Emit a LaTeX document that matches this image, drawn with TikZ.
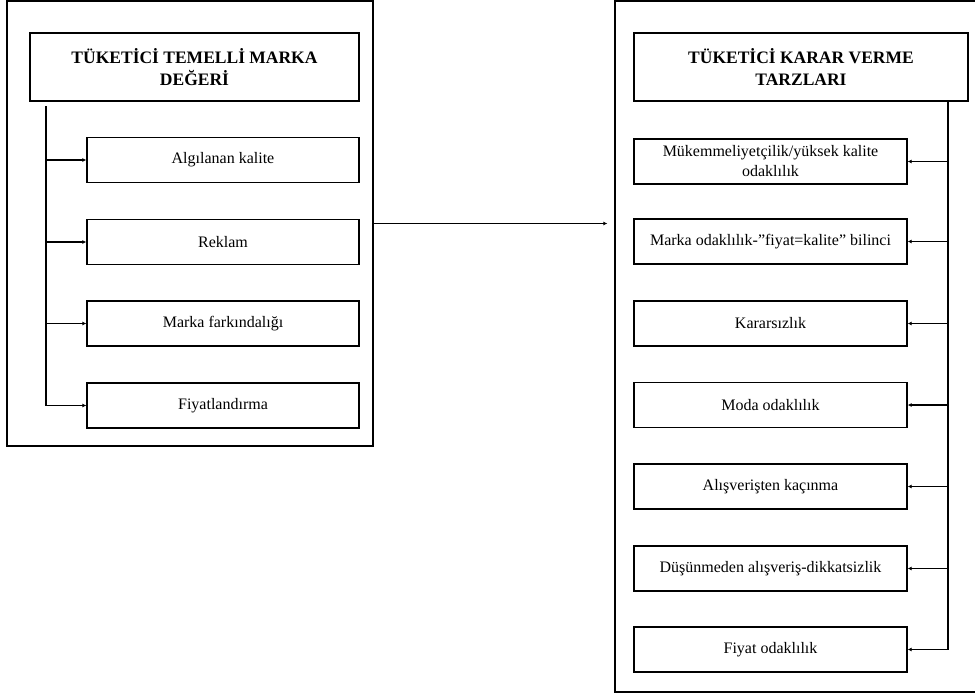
\documentclass[tikz,border=0pt]{standalone}
\usepackage{fontspec}
\setmainfont{Liberation Serif}
\usetikzlibrary{arrows.meta}
\begin{document}
\begin{tikzpicture}[x=1pt,y=-1pt,
  every path/.style={line width=1.3pt},
  outer/.style={draw, line width=1.3pt, inner sep=0pt},
  header/.style={draw, line width=1.3pt, inner sep=0pt, minimum height=68pt, align=center,
    font=\fontsize{17.5}{22}\selectfont\bfseries},
  itembox/.style={draw, line width=1.3pt, inner sep=0pt, minimum height=45pt, align=center,
    font=\fontsize{16}{20}\selectfont},
  conn/.style={line width=1.3pt, -{Latex[length=4pt,width=4pt]}}]
\useasboundingbox (0,0) rectangle (975,694);
% outer frames
\node[outer, minimum width=366pt, minimum height=445pt] (L) at (190,223.5) {};
\node[outer, minimum width=370pt, minimum height=691pt] (R) at (800,346.5) {};
% left side
\node[header, minimum width=329pt] (LH) at (194.5,67) {TÜKETİCİ TEMELLİ MARKA\\DEĞERİ};
\node[itembox, minimum width=272pt] (l1) at (223,160) {Algılanan kalite};
\node[itembox, minimum width=272pt] (l2) at (223,242) {Reklam};
\node[itembox, minimum width=272pt] (l3) at (223,323.5) {Marka farkındalığı};
\node[itembox, minimum width=272pt] (l4) at (223,405.5) {Fiyatlandırma};
\coordinate (ltop) at (46,106);
\draw (ltop) -- (ltop |- l4.west);
\foreach \n in {l1,l2,l3,l4} \draw[conn] (ltop |- \n.west) -- (\n.west);
% right side
\node[header, minimum width=334pt] (RH) at (801,67) {TÜKETİCİ KARAR VERME\\TARZLARI};
\node[itembox, minimum width=273pt] (r1) at (770.5,161.5) {Mükemmeliyetçilik/yüksek kalite\\odaklılık};
\node[itembox, minimum width=273pt] (r2) at (770.5,241.5) {Marka odaklılık-”fiyat=kalite” bilinci};
\node[itembox, minimum width=273pt] (r3) at (770.5,323.5) {Kararsızlık};
\node[itembox, minimum width=273pt] (r4) at (770.5,405) {Moda odaklılık};
\node[itembox, minimum width=273pt] (r5) at (770.5,486.5) {Alışverişten kaçınma};
\node[itembox, minimum width=273pt] (r6) at (770.5,568.5) {Düşünmeden alışveriş-dikkatsizlik};
\node[itembox, minimum width=273pt] (r7) at (770.5,649.5) {Fiyat odaklılık};
\coordinate (rtop) at (948,101);
\draw (rtop) -- (rtop |- r7.east);
\foreach \n in {r1,r2,r3,r4,r5,r6,r7} \draw[conn] (rtop |- \n.east) -- (\n.east);
% main connector
\draw[conn, shorten >=7pt] (L.east) -- (L.east -| R.west);
\end{tikzpicture}
\end{document}
